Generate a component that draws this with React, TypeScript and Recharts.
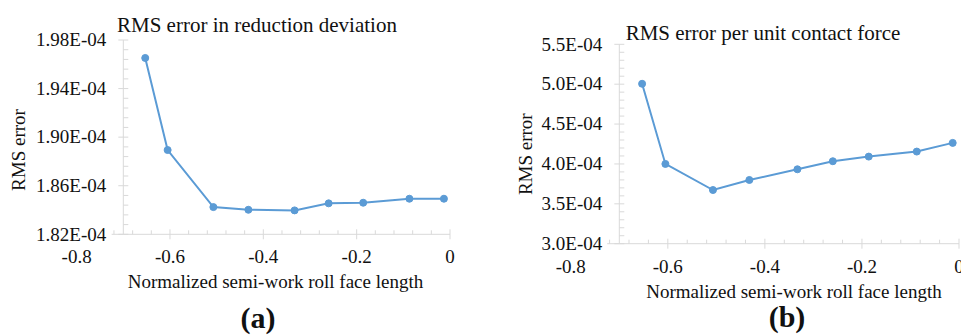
import React from 'react';
import { LineChart, Line, XAxis, YAxis, ReferenceLine } from 'recharts';

// ---- data ----
const xPositions = [-0.653, -0.605, -0.507, -0.432, -0.333, -0.26, -0.186, -0.087, -0.013];
const reductionDeviationRms = [1.9652e-4, 1.8894e-4, 1.8424e-4, 1.8402e-4, 1.8397e-4, 1.8455e-4, 1.846e-4, 1.8493e-4, 1.8493e-4];
const contactForceRms = [5.005e-4, 4.0e-4, 3.673e-4, 3.799e-4, 3.933e-4, 4.034e-4, 4.092e-4, 4.155e-4, 4.264e-4];

const xMajorTicks = [-0.8, -0.6, -0.4, -0.2, 0];
const xMinorTicks = [-0.72, -0.68, -0.64, -0.56, -0.52, -0.48, -0.44, -0.36, -0.32, -0.28, -0.24, -0.16, -0.12, -0.08, -0.04];
const yMajorTicksA = [1.82e-4, 1.86e-4, 1.9e-4, 1.94e-4, 1.98e-4];
const yMajorTicksB = [3.0e-4, 3.5e-4, 4.0e-4, 4.5e-4, 5.0e-4, 5.5e-4];
const yDigitsA = 2;
const yDigitsB = 1;

const titles = ['RMS error in reduction deviation', 'RMS error per unit contact force'];
const yAxisTitle = 'RMS error';
const xAxisTitle = 'Normalized semi-work roll face length';
const panelLabels = ['(a)', '(b)'];

// ---- styles ----
const FONT = '"Liberation Serif", "Times New Roman", Times, serif';
const AXIS_COLOR = '#d9d9d9';
const TEXT_COLOR = '#111111';
const LINE_COLOR = '#5b9bd5';
const AXIS_START = -0.725;

const minorOf = (majors: number[], div: number) => {
  const out: number[] = [];
  for (let i = 0; i < majors.length - 1; i++) {
    for (let k = 1; k < div; k++) out.push(majors[i] + ((majors[i + 1] - majors[i]) * k) / div);
  }
  return out;
};

const isMajor = (v: number, majors: number[]) =>
  majors.some((m) => Math.abs(m - v) <= Math.abs(m) * 1e-6 + 1e-12);

const fmtExp = (v: number, digits: number) => {
  const s = v.toExponential(digits);
  const [mant, exp] = s.split('e');
  const sign = exp.startsWith('-') ? '-' : '+';
  const num = exp.replace('-', '').replace('+', '');
  return `${mant}E${sign}${num.padStart(2, '0')}`;
};

const makeXTick = (majors: number[]) => (props: any) => {
  const { x, y, payload } = props;
  const v = payload.value as number;
  const major = isMajor(v, majors);
  const onAxis = v >= AXIS_START;
  return (
    <g>
      {onAxis &&
        (major ? (
          <line x1={x} x2={x} y1={y - 5} y2={y + 5} stroke={AXIS_COLOR} strokeWidth={1} />
        ) : (
          <line x1={x} x2={x} y1={y - 4} y2={y} stroke={AXIS_COLOR} strokeWidth={1} />
        ))}
      {major && (
        <text x={x} y={y + 29} textAnchor="middle" fontSize={19} fontFamily={FONT} fill={TEXT_COLOR}>
          {String(v)}
        </text>
      )}
    </g>
  );
};

const makeYTick = (majors: number[], digits: number) => (props: any) => {
  const { x, y, payload } = props;
  const v = payload.value as number;
  const major = isMajor(v, majors);
  return (
    <g>
      {major ? (
        <line x1={x - 5} x2={x + 5} y1={y} y2={y} stroke={AXIS_COLOR} strokeWidth={1} />
      ) : (
        <line x1={x} x2={x + 5} y1={y} y2={y} stroke={AXIS_COLOR} strokeWidth={1} />
      )}
      {major && (
        <text x={x - 17} y={y} dy="0.33em" textAnchor="end" fontSize={19} fontFamily={FONT} fill={TEXT_COLOR}>
          {fmtExp(v, digits)}
        </text>
      )}
    </g>
  );
};

type PanelProps = {
  values: number[];
  yMajors: number[];
  digits: number;
  width: number;
  height: number;
  margin: { top: number; right: number; bottom: number; left: number };
};

const Panel = ({ values, yMajors, digits, width, height, margin }: PanelProps) => {
  const data = xPositions.map((x, i) => ({ x, y: values[i] }));
  const yTicks = [...yMajors, ...minorOf(yMajors, 5)].sort((a, b) => a - b);
  const xTicks = [...xMajorTicks, ...xMinorTicks].sort((a, b) => a - b);
  const yMin = yMajors[0];
  const yMax = yMajors[yMajors.length - 1];
  return (
    <LineChart width={width} height={height} data={data} margin={margin}>
      <XAxis
        type="number"
        dataKey="x"
        domain={[-0.7, 0]}
        allowDataOverflow
        ticks={xTicks}
        interval={0}
        tickSize={0}
        tickMargin={0}
        tickLine={false}
        axisLine={{ stroke: AXIS_COLOR, strokeWidth: 1 }}
        tick={makeXTick(xMajorTicks)}
        height={40}
      />
      <YAxis
        type="number"
        domain={[yMin, yMax]}
        allowDataOverflow
        ticks={yTicks}
        interval={0}
        tickSize={0}
        tickMargin={0}
        tickLine={false}
        axisLine={{ stroke: AXIS_COLOR, strokeWidth: 1 }}
        tick={makeYTick(yMajors, digits)}
        width={60}
      />
      <ReferenceLine
        segment={[
          { x: AXIS_START, y: yMin },
          { x: -0.7, y: yMin },
        ]}
        stroke={AXIS_COLOR}
        strokeWidth={1}
        ifOverflow="visible"
      />
      <Line
        type="linear"
        dataKey="y"
        stroke={LINE_COLOR}
        strokeWidth={2}
        dot={{ r: 3.5, fill: LINE_COLOR, stroke: LINE_COLOR, strokeWidth: 1 }}
        isAnimationActive={false}
      />
    </LineChart>
  );
};

export default function App() {
  return (
    <div style={{ position: 'absolute', left: 0, top: 0, width: 961, height: 335, background: '#fff', overflow: 'hidden' }}>
      <div style={{ position: 'absolute', left: 0, top: 0 }}>
        <Panel
          values={reductionDeviationRms}
          yMajors={yMajorTicksA}
          digits={yDigitsA}
          width={480}
          height={335}
          margin={{ top: 40, right: 30, bottom: 60.7, left: 63.3 }}
        />
      </div>
      <div style={{ position: 'absolute', left: 480, top: 0 }}>
        <Panel
          values={contactForceRms}
          yMajors={yMajorTicksB}
          digits={yDigitsB}
          width={481}
          height={335}
          margin={{ top: 44.3, right: 2, bottom: 51.3, left: 79.3 }}
        />
      </div>
      <svg
        width={961}
        height={335}
        style={{ position: 'absolute', left: 0, top: 0, pointerEvents: 'none' }}
        fontFamily={FONT}
        fill={TEXT_COLOR}
      >
        <text x={117} y={32.3} fontSize={21}>{titles[0]}</text>
        <text x={625.7} y={40} fontSize={21}>{titles[1]}</text>
        <text x={24.5} y={150} fontSize={19} textAnchor="middle" transform="rotate(-90, 24.5, 150)">{yAxisTitle}</text>
        <text x={532.5} y={154.2} fontSize={19} textAnchor="middle" transform="rotate(-90, 532.5, 154.2)">{yAxisTitle}</text>
        <text x={275.5} y={288} fontSize={19} textAnchor="middle">{xAxisTitle}</text>
        <text x={794} y={298} fontSize={19} textAnchor="middle">{xAxisTitle}</text>
        <text x={258} y={328} fontSize={30} fontWeight="bold" textAnchor="middle">{panelLabels[0]}</text>
        <text x={787} y={327} fontSize={30} fontWeight="bold" textAnchor="middle">{panelLabels[1]}</text>
      </svg>
    </div>
  );
}
